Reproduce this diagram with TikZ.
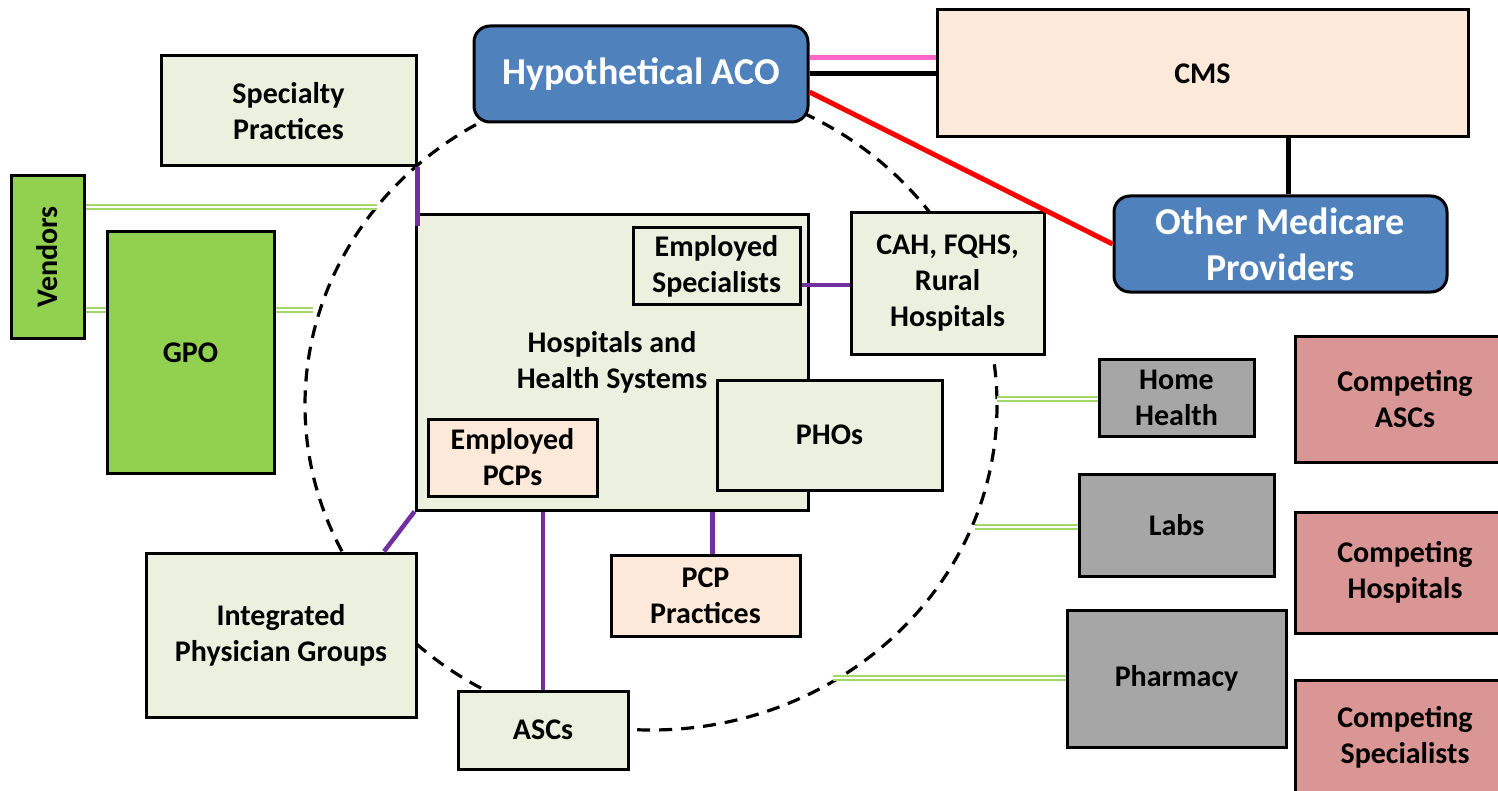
\documentclass[tikz,border=0pt]{standalone}
\usepackage{fontspec}
\setmainfont{Carlito}
\usepackage{graphicx}
\usetikzlibrary{positioning}
\definecolor{acoblue}{HTML}{4F81BD}
\definecolor{peach}{HTML}{FDE9D9}
\definecolor{sage}{HTML}{EBF1DE}
\definecolor{leaf}{HTML}{92D050}
\definecolor{ash}{HTML}{A6A6A6}
\definecolor{rose}{HTML}{D99694}
\definecolor{plum}{HTML}{7030A0}
\definecolor{pinkline}{HTML}{FF66CC}
\tikzset{
  bx/.style={rectangle, draw=black, line width=1.5pt, inner sep=2pt, align=center, text centered, font=\fontsize{15}{18}\selectfont\bfseries},
  bl/.style={bx, rounded corners=8pt, fill=acoblue, text=white, font=\fontsize{19}{23}\selectfont\bfseries},
  pe/.style={bx, fill=peach},
  lg/.style={bx, fill=sage},
  gr/.style={bx, fill=leaf},
  gy/.style={bx, fill=ash},
  rs/.style={bx, fill=rose},
  pul/.style={draw=plum, line width=2.25pt},
  grl/.style={draw=leaf!85, double=white, double distance=1pt, line width=1.1pt},
  ring/.style={draw=black, line width=1.6pt, dash pattern=on 6.5pt off 4.5pt}
}
\begin{document}
\begin{tikzpicture}[x=0.5pt,y=-0.5pt]
	\useasboundingbox (0,0) rectangle (1498,791);
	\draw[ring] (651,405) ellipse [x radius=346, y radius=325];
	\coordinate (rv) at (377,207);
	\coordinate (rg) at (313,310);
	\coordinate (rh) at (997,399);
	\coordinate (rl) at (975,527);
	\coordinate (rp) at (833,678);
	%
	\node[bl, minimum width=167pt, minimum height=48pt] (aco) at (641,74) {Hypothetical ACO};
	\node[pe, minimum width=265.5pt, minimum height=63.5pt] (cms) at (1202.5,73.5) {CMS};
	\node[bl, minimum width=166.5pt, minimum height=48pt] (omp) at (1280.5,244) {Other Medicare\\Providers};
	\node[lg, minimum width=127.5pt, minimum height=55pt] (spec) at (288.5,111) {Specialty\\Practices};
	\node[gr, minimum width=36.5pt, minimum height=81pt] (vend) at (47.5,257) {\rotatebox{90}{Vendors}};
	\node[gr, minimum width=83.5pt, minimum height=120.5pt] (gpo) at (190.5,352.5) {GPO};
	\node[lg, minimum width=196pt, minimum height=147.5pt] (hosp) at (612,362.5) {Hospitals and\\Health Systems};
	\node[lg, minimum width=83.5pt, minimum height=38pt] (espec) at (716.5,266) {Employed\\Specialists};
	\node[pe, minimum width=84.5pt, minimum height=38.5pt] (epcp) at (512.5,457.5) {Employed\\PCPs};
	\node[lg, minimum width=112.5pt, minimum height=55pt] (pho) at (829.5,435) {PHOs};
	\node[lg, minimum width=96.5pt, minimum height=70.5pt] (cah) at (947.5,283.5) {CAH, FQHS,\\Rural\\Hospitals};
	\node[gy, minimum width=77.5pt, minimum height=38.5pt] (home) at (1176.5,397.5) {Home\\Health};
	\node[gy, minimum width=97.5pt, minimum height=51pt] (labs) at (1176.5,525) {Labs};
	\node[gy, minimum width=109.5pt, minimum height=68.5pt] (pharm) at (1176.5,678.5) {Pharmacy};
	\node[rs, minimum width=110pt, minimum height=63pt] (casc) at (1405,399) {Competing\\ASCs};
	\node[rs, minimum width=110pt, minimum height=60.5pt] (chosp) at (1405,572.5) {Competing\\Hospitals};
	\node[rs, minimum width=110pt, minimum height=57.5pt] (cspec) at (1405,737.5) {Competing\\Specialists};
	\node[lg, minimum width=135pt, minimum height=82pt] (ipg) at (281,635) {Integrated\\Physician Groups};
	\node[lg, minimum width=85pt, minimum height=39pt] (ascs) at (543,730) {ASCs};
	\node[pe, minimum width=94.5pt, minimum height=40.5pt] (pcpp) at (705.5,595.5) {PCP\\Practices};
	\coordinate (hn) at ([yshift=-6.5pt]hosp.north west);
	%
	\draw[pinkline, line width=2.5pt] ([yshift=8pt]aco.east) -- ([yshift=8pt]aco.east -| cms.west);
	\draw[line width=2.5pt] (aco.east) -- (aco.east -| cms.west);
	\draw[red, line width=2.5pt] ([yshift=-9pt]aco.east) -- (omp.west);
	\draw[line width=2.25pt] ([xshift=4pt]omp.north |- cms.south) -- ([xshift=4pt]omp.north);
	\draw[pul] (spec.south east) -- (spec.south east |- hn);
	\draw[pul] ([yshift=-9.5pt]espec.east) -- ([yshift=-9.5pt]espec.east -| cah.west);
	\draw[pul] (hosp.south west) -- ([xshift=51.5pt]ipg.north);
	\draw[pul] (hosp.south -| ascs.north) -- (ascs.north);
	\draw[pul] ([xshift=3.5pt]hosp.south -| pcpp.north) -- ([xshift=3.5pt]pcpp.north);
	\draw[grl] ([yshift=25pt]vend.east) -- (rv);
	\draw[grl] ([yshift=-26.5pt]vend.east) -- ([yshift=-26.5pt]vend.east -| gpo.west);
	\draw[grl] (gpo.east |- rg) -- (rg);
	\draw[grl] (rh) -- (rh -| home.west);
	\draw[grl] (rl) -- (rl -| labs.west);
	\draw[grl] (rp) -- (rp -| pharm.west);
\end{tikzpicture}
\end{document}
